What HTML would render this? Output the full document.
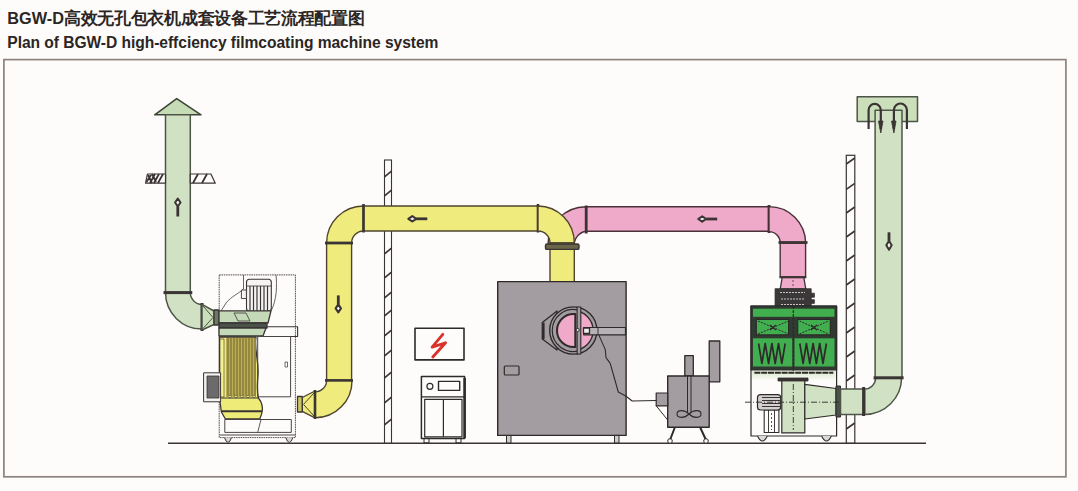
<!DOCTYPE html>
<html><head><meta charset="utf-8">
<style>
html,body{margin:0;padding:0;background:#fdfcfa;width:1078px;height:491px;overflow:hidden;position:relative;font-family:"Liberation Sans",sans-serif;}
.t{position:absolute;left:7.3px;font-weight:bold;color:#2b2624;white-space:nowrap;line-height:20px;}
#t1{top:8px;font-size:16.3px;}
#t1 span{font-size:17px;letter-spacing:-0.3px;}
#t2{top:32.7px;font-size:15.6px;letter-spacing:-0.05px;}
svg{position:absolute;left:0;top:0;filter:blur(0.3px);}
</style></head>
<body>
<div class="t" id="t1">BGW-D<span>高效无孔包衣机成套设备工艺流程配置图</span></div>
<div class="t" id="t2">Plan of BGW-D high-effciency filmcoating machine system</div>
<svg width="1078" height="491" viewBox="0 0 1078 491">
<defs>
<pattern id="hatch" patternUnits="userSpaceOnUse" width="8" height="20" patternTransform="skewY(-35)">
<rect width="8" height="20" fill="#fdfcfa"/><rect y="0" width="8" height="2.2" fill="#3a3434"/>
</pattern>
<linearGradient id="glow" x1="0" y1="0" x2="0" y2="1"><stop offset="0" stop-color="#d8e8cc"/><stop offset="1" stop-color="#fdfcfa"/></linearGradient>
</defs>
<!-- frame -->
<rect x="3.9" y="59.6" width="1062" height="417.2" fill="none" stroke="#8c827e" stroke-width="1.7"/>
<!-- floor -->
<line x1="168" y1="443.2" x2="926" y2="443.2" stroke="#3a3434" stroke-width="1.6"/>

<g stroke="#3a3434" stroke-width="1.3" stroke-linejoin="round">
<!-- ===== LEFT CHIMNEY ===== -->
<polygon points="176.7,98.6 154.7,114.8 201,114.8" fill="#c6dcb6" stroke="#3e4438" stroke-width="1.6"/>
<rect x="165.5" y="114.8" width="24.8" height="178" fill="#d0e2c3" stroke="#4e5548" stroke-width="1.5"/>
<!-- roof bar hatch -->
<polygon points="147.4,174 165.5,174 165.5,183.2 145.6,183.2" fill="#fdfcfa" stroke-width="1.2"/>
<polygon points="190.3,174 210.9,174 215.3,183.2 190.3,183.2" fill="#fdfcfa" stroke-width="1.2"/>
<path d="M146.5,182 L151,175 M150,183 L155,174 M154,183 L159,174 M158,183 L163,174 M148,175 L152,183 M152,174 L156,182 M193,183 L198,174 M202,183 L207,174" stroke-width="1.8" fill="none"/>
<!-- elbow -->
<path d="M165.5,292.6 A36.5,36.5 0 0 0 202,329.1 L202,304.4 A11.8,11.8 0 0 1 190.3,292.6 Z" fill="#d0e2c3" stroke="#4e5548" stroke-width="1.5"/>
<line x1="163.5" y1="292.6" x2="192.3" y2="292.6" stroke-width="3"/>
<line x1="202" y1="303" x2="202" y2="331" stroke-width="3"/>
<polygon points="202,304.4 214,311 214,324.5 202,330" fill="#cadfba" stroke="#4e5548" stroke-width="1.5"/><path d="M203,306 L213,317.5 L203,328.5" fill="none" stroke="#4e5548" stroke-width="1"/>
<rect x="214" y="310" width="5" height="15" fill="#6a7a66"/>
<!-- arrow up -->
<g stroke="#3a3434" fill="#f4f2ee"><path d="M177.8,198.5 L175.10000000000002,202.5 L177.8,206.5 L180.5,202.5 Z" stroke-width="2"/><line x1="177.8" y1="206.5" x2="177.8" y2="216.5" stroke-width="2.8"/></g>

<!-- ===== LEFT DUST COLLECTOR ===== -->
<rect x="219.2" y="274.9" width="76.2" height="162.7" fill="none" stroke="#5a5050" stroke-width="1" stroke-dasharray="1.6,0.7"/>
<polyline points="265,326.7 297.6,326.7 297.6,336.5 262,336.5" fill="none" stroke-width="1.1"/>
<!-- motor cover outline -->
<path d="M243.5,275 L243.5,289 C238,294 232,296 226,303 L221,311 M276,275 C277,285 277,300 271,311" fill="none" stroke="#5a5050" stroke-width="0.9"/>
<!-- motor -->
<rect x="246.5" y="279.3" width="24.8" height="32" rx="3" fill="#f6f4f2" stroke-width="1.1"/>
<line x1="247" y1="286" x2="271" y2="286" stroke-width="0.8"/>
<g stroke-width="1.2">
<line x1="250" y1="286" x2="250" y2="311"/><line x1="253.5" y1="286" x2="253.5" y2="311"/>
<line x1="257" y1="286" x2="257" y2="311"/><line x1="260.5" y1="286" x2="260.5" y2="311"/>
<line x1="264" y1="286" x2="264" y2="311"/><line x1="267.5" y1="286" x2="267.5" y2="311"/>
</g>
<rect x="241.4" y="290" width="5" height="8.5" fill="#f6f4f2" stroke-width="0.9"/>
<!-- fan housing -->
<path d="M219,310.8 L271,310.8 L268,323 L219,323 Z" fill="#c4d9b8"/>
<rect x="219" y="323" width="48" height="5" fill="#4a524a"/>
<path d="M219,328 L266,328 L263,336 L219,336 Z" fill="#c4d9b8"/>
<path d="M234,313 L246,313 L250,321 L238,321 Z" fill="none" stroke-width="0.8"/>
<!-- yellow filter body -->
<path d="M219.5,337 L256,337 C254,350 259,360 258,375 C257,385 257,392 258.4,398 C262,402 263,408 262,412 C261.5,415 260.5,417 259.7,419 L225.4,419 L221.4,412 L219.5,398 Z" fill="#efeb78"/>
<rect x="226" y="338" width="30" height="59" fill="#bcae52" stroke="none"/>
<g stroke="#5a4f2a" stroke-width="0.8"><line x1="228" y1="338" x2="228" y2="396"/><line x1="231" y1="338" x2="231" y2="396"/><line x1="234" y1="338" x2="234" y2="396"/><line x1="237" y1="338" x2="237" y2="396"/><line x1="240" y1="338" x2="240" y2="396"/><line x1="243" y1="338" x2="243" y2="396"/><line x1="246" y1="338" x2="246" y2="396"/><line x1="249" y1="338" x2="249" y2="396"/><line x1="252" y1="338" x2="252" y2="396"/><line x1="255" y1="338" x2="255" y2="396"/></g>
<g fill="#f0ec90" stroke="#5a4f2a" stroke-width="0.6"><circle cx="230" cy="396.5" r="1.3"/><circle cx="236" cy="396.5" r="1.3"/><circle cx="242" cy="396.5" r="1.3"/><circle cx="248" cy="396.5" r="1.3"/><circle cx="254" cy="396.5" r="1.3"/></g>
<rect x="220" y="339" width="4" height="58" fill="#f4f190" stroke-width="0.6"/>
<line x1="221.5" y1="411.2" x2="262" y2="411.2" stroke-width="2"/>
<line x1="220" y1="398" x2="258.4" y2="398" stroke-width="1"/>
<!-- inner door -->
<rect x="257.7" y="336.5" width="32.9" height="60.3" fill="none" stroke="#4a4444" stroke-width="1"/>
<rect x="285" y="362" width="2.5" height="5" fill="none" stroke-width="0.7"/>
<!-- small motor left -->
<rect x="203.6" y="372.8" width="17" height="29" fill="#f4f2f0" stroke-width="1"/>
<rect x="207" y="376" width="12" height="22" fill="#6c6a6a" stroke-width="0.8"/>
<!-- bottom tray -->
<rect x="224.8" y="419.5" width="66.5" height="12.9" fill="none" stroke="#4a4444" stroke-width="1"/>
<path d="M261,419.5 L257.7,432.4" fill="none" stroke-width="0.8"/>
<line x1="219.5" y1="435" x2="295.4" y2="435" stroke="#4a4444" stroke-width="1"/>
<path d="M224.5,437.6 L226,441 Q228,444 230,441 L231.5,437.6 M285.8,437.6 L287.3,441 Q289.3,444 291.3,441 L292.8,437.6" fill="#d8d6d4" stroke-width="1"/>

<!-- ===== YELLOW PIPE ===== -->
<!-- lower elbow -->
<path d="M352,380.4 A37,37 0 0 1 315,417.8 L315,391.9 A11.5,11.5 0 0 0 326.6,380.4 Z" fill="#efeb7c" stroke="#4e4530" stroke-width="1.4"/>
<polygon points="315,391 302.2,397.5 302.2,411.3 315,417.8" fill="#efeb7c" stroke="#4e4530" stroke-width="1.4"/><path d="M314,393 L303.5,404.4 L314,416" fill="none" stroke="#4e4530" stroke-width="1"/>
<rect x="297.5" y="396.5" width="4.7" height="15.5" fill="#ccc660"/>
<line x1="315" y1="390" x2="315" y2="419" stroke-width="2.6"/>
<!-- vertical -->
<rect x="326.6" y="243" width="25" height="137.4" fill="#efeb7c" stroke="#4e4530" stroke-width="1.4"/>
<line x1="325" y1="380.4" x2="353" y2="380.4" stroke-width="2.6"/>
<!-- upper left elbow -->
<path d="M326.6,243 A36.9,37 0 0 1 363.5,206 L363.5,231 A12,12 0 0 0 351.6,243 Z" fill="#efeb7c" stroke="#4e4530" stroke-width="1.4"/>
<line x1="325" y1="243" x2="353" y2="243" stroke-width="2.8"/>
<!-- arrow down in vertical -->
<g stroke="#3a3434" fill="#f4f2ee"><path d="M338.3,312.4 L335.6,308.4 L338.3,304.4 L341.0,308.4 Z" stroke-width="2"/><line x1="338.3" y1="304.4" x2="338.3" y2="295.4" stroke-width="2.8"/></g>
</g>

<!-- ===== MIDDLE POST ===== -->
<rect x="384.5" y="160" width="7" height="283" fill="#fdfcfa" stroke="#3a3434" stroke-width="1.1"/>
<g stroke="#3a3434" stroke-width="1.7"><line x1="384.5" y1="176.8" x2="391.5" y2="171.2"/><line x1="384.5" y1="195.8" x2="391.5" y2="190.2"/><line x1="384.5" y1="253.8" x2="391.5" y2="248.2"/><line x1="384.5" y1="277.8" x2="391.5" y2="272.2"/><line x1="384.5" y1="297.8" x2="391.5" y2="292.2"/><line x1="384.5" y1="315.8" x2="391.5" y2="310.2"/><line x1="384.5" y1="335.8" x2="391.5" y2="330.2"/><line x1="384.5" y1="355.8" x2="391.5" y2="350.2"/><line x1="384.5" y1="377.8" x2="391.5" y2="372.2"/><line x1="384.5" y1="402.8" x2="391.5" y2="397.2"/><line x1="384.5" y1="424.8" x2="391.5" y2="419.2"/></g>

<g stroke="#3a3434" stroke-width="1.3" stroke-linejoin="round">
<!-- horizontal yellow -->
<rect x="363.5" y="206" width="174.5" height="25" fill="#efeb7c" stroke="#4e4530" stroke-width="1.4"/>
<line x1="363.5" y1="204" x2="363.5" y2="232.5" stroke-width="2.6"/>
<line x1="538" y1="204" x2="538" y2="232.5" stroke-width="2.6"/>
<g stroke="#3a3434" fill="#f4f2ee"><path d="M408.3,218.8 L412.3,216.10000000000002 L416.3,218.8 L412.3,221.5 Z" stroke-width="2"/><line x1="416.3" y1="218.8" x2="427.3" y2="218.8" stroke-width="2.8"/></g>

<!-- ===== PINK PIPE ===== -->
<path d="M586.2,206.7 A38,38 0 0 0 548,245 L574.2,245 A14,14 0 0 1 586.2,231.2 Z" fill="#efa9c9" stroke="#4a3038" stroke-width="1.4"/>
<rect x="586.2" y="206.7" width="182.8" height="24.5" fill="#efa9c9" stroke="#4a3038" stroke-width="1.4"/>
<line x1="586.2" y1="205.5" x2="586.2" y2="233.5" stroke-width="2.8"/>
<line x1="769" y1="205" x2="769" y2="233" stroke-width="2.8"/>
<path d="M769,206.6 A36.6,36.6 0 0 1 805.6,243 L780.2,243 A11.2,11.2 0 0 0 769,231.6 Z" fill="#efa9c9" stroke="#4a3038" stroke-width="1.4"/>
<rect x="780.2" y="243" width="25.4" height="34" fill="#efa9c9" stroke="#4a3038" stroke-width="1.4"/>
<line x1="778.5" y1="242.5" x2="807.5" y2="242.5" stroke-width="2.8"/>
<polygon points="782.2,277.3 803.8,277.3 805.8,289 780.2,289" fill="#efa9c9"/><line x1="779.5" y1="277.3" x2="806.3" y2="277.3" stroke-width="2"/>
<line x1="793" y1="280" x2="793" y2="300" stroke-dasharray="2,2" stroke-width="0.8"/>
<g stroke="#3a3434" fill="#f4f2ee"><path d="M698.2,219 L702.2,216.3 L706.2,219 L702.2,221.7 Z" stroke-width="2"/><line x1="706.2" y1="219" x2="717.2" y2="219" stroke-width="2.8"/></g>
<!-- dark box on filter -->
<rect x="775.3" y="289" width="35.7" height="17" fill="#3a3838"/>
<g stroke="#c8c4c4" stroke-width="1" stroke-dasharray="2,1">
<line x1="780" y1="292.5" x2="805" y2="292.5"/><line x1="781" y1="299" x2="805" y2="299"/><line x1="781" y1="304.5" x2="805" y2="304.5"/>
</g>
<rect x="810.7" y="293.2" width="3.7" height="4.1" fill="#3a3838" stroke-width="0.8"/>
<rect x="810.7" y="299.7" width="3.7" height="3.7" fill="#3a3838" stroke-width="0.8"/>

<!-- yellow right elbow (over pink) -->
<path d="M538,206 A36.3,37 0 0 1 574.3,243 L550,243 A12,12 0 0 0 538,231 Z" fill="#efeb7c" stroke="#4e4530" stroke-width="1.4"/>
<rect x="550" y="243" width="24.3" height="39" fill="#efeb7c" stroke="#4e4530" stroke-width="1.4"/>
<rect x="545.5" y="244" width="33.5" height="5.4" rx="1.5" fill="#6a6448" stroke="#3a3430" stroke-width="1.4"/>
</g>

<!-- ===== ELECTRICAL ===== -->
<g stroke="#2e2a2a" fill="none" stroke-linejoin="round">
<rect x="415" y="328.3" width="49" height="31.6" stroke-width="1.6"/>
<path d="M442.8,334.3 L432.1,347.1 L445.6,342.8 L432.8,357" stroke="#d8322a" stroke-width="2.8" stroke-linecap="round"/>
<rect x="421.4" y="376.5" width="43.2" height="61.9" stroke-width="1.5"/>
<line x1="464.6" y1="378" x2="464.6" y2="438" stroke-width="2.6"/>
<line x1="422" y1="396.9" x2="464" y2="396.9" stroke-width="1.2"/>
<circle cx="429.9" cy="386.3" r="3" stroke-width="1.2"/>
<rect x="438.5" y="381.4" width="21.2" height="9" stroke-width="1.4"/>
<rect x="424.7" y="399.3" width="37.3" height="37.5" stroke-width="1.2"/>
<line x1="443.4" y1="399.3" x2="443.4" y2="436.8" stroke-width="1.2"/>
<rect x="424" y="438.4" width="5" height="4.5" stroke-width="1"/>
<rect x="456" y="438.4" width="5" height="4.5" stroke-width="1"/>
</g>

<!-- ===== COATING MACHINE ===== -->
<g stroke="#2e2a2a" stroke-linejoin="round">
<rect x="497.7" y="281.6" width="128.4" height="153.8" fill="#a39da1" stroke-width="1.4"/>
<rect x="506.5" y="435.4" width="4.5" height="7.5" fill="#d0cccc" stroke-width="1"/>
<rect x="614.5" y="435.4" width="4.5" height="7.5" fill="#d0cccc" stroke-width="1"/>
<rect x="504.3" y="366" width="14.7" height="9" rx="1" fill="none" stroke-width="1.2"/>
<!-- door -->
<polygon points="542.3,322.6 557,311 557,350 542.3,339" fill="#a39da1" stroke-width="1.3"/>
<line x1="543.5" y1="322.6" x2="543.5" y2="339" stroke-width="2.2"/>
<circle cx="573.3" cy="330.5" r="23.6" fill="#a39da1" stroke-width="1.4"/>
<circle cx="573.3" cy="330.5" r="19.8" fill="#efa9c9" stroke-width="1.3"/>
<path d="M579,310.3 A21,21 0 1 0 579,350.7 Z" fill="#a39da1" stroke-width="1.2"/>
<path d="M575.3,314.1 A16.5,16.5 0 1 0 575.3,346.9 Z" fill="#efa9c9" stroke-width="2"/>
<rect x="577.1" y="307" width="3.7" height="47" fill="#a39da1" stroke-width="1.1"/>
<circle cx="577.7" cy="330" r="1.6" fill="#e8e4e4" stroke-width="0.9"/>
<rect x="583.7" y="327.5" width="41.8" height="7.3" fill="#b7b2b5" stroke-width="1.2"/>
<rect x="583.5" y="328" width="6" height="5.5" fill="#f0eeee" stroke-width="1.3"/>
<line x1="598" y1="327.5" x2="598" y2="334.8" stroke-width="0.9"/>
<!-- cable -->
<path d="M598.8,334.9 L605.3,349.6 L606,357.7 L610.2,363.4 L618.3,392 L625.7,396 L632.2,401 L656.7,400.5" fill="none" stroke-width="1.1"/>
</g>

<!-- ===== MIXING TANK ===== -->
<g stroke="#2e2a2a" stroke-linejoin="round">
<rect x="709.2" y="341" width="10.6" height="40.8" fill="#a39da1" stroke-width="1.3"/>
<rect x="684.8" y="355.7" width="8.5" height="20.3" fill="#a39da1" stroke-width="1.3"/>
<path d="M675,427 L670,440 M700,427 L706,440" fill="none" stroke-width="2"/>
<circle cx="670" cy="441" r="2.3" fill="#fdfcfa" stroke-width="1"/>
<circle cx="706" cy="441" r="2.3" fill="#fdfcfa" stroke-width="1"/>
<rect x="667.7" y="376" width="41.5" height="51.3" fill="#a39da1" stroke-width="1.4"/>
<rect x="656.2" y="393" width="11.5" height="12.8" fill="#a39da1" stroke-width="1.2"/>
<path d="M656.2,405.8 L667.7,420" fill="none" stroke-width="1"/>
<line x1="687.5" y1="376" x2="687.5" y2="412" stroke-width="1"/>
<line x1="691" y1="376" x2="691" y2="412" stroke-width="1"/>
<path d="M689,414 C684,409 677,410 677,414 C677,418 684,419 689,414 C694,409 701,410 701,414 C701,418 694,419 689,414 Z" fill="none" stroke-width="1.1"/>
</g>

<!-- ===== RIGHT POST ===== -->
<rect x="846.3" y="155.3" width="8.5" height="287.7" fill="#fdfcfa" stroke="#3a3434" stroke-width="1.2"/>
<g stroke="#3a3434" stroke-width="1.6"><line x1="846.3" y1="164.0" x2="854.8" y2="158.0"/><line x1="846.3" y1="189.3" x2="854.8" y2="183.3"/><line x1="846.3" y1="213.0" x2="854.8" y2="207.0"/><line x1="846.3" y1="237.0" x2="854.8" y2="231.0"/><line x1="846.3" y1="261.0" x2="854.8" y2="255.0"/><line x1="846.3" y1="285.0" x2="854.8" y2="279.0"/><line x1="846.3" y1="309.0" x2="854.8" y2="303.0"/><line x1="846.3" y1="333.0" x2="854.8" y2="327.0"/><line x1="846.3" y1="357.0" x2="854.8" y2="351.0"/><line x1="846.3" y1="381.0" x2="854.8" y2="375.0"/><line x1="846.3" y1="405.0" x2="854.8" y2="399.0"/><line x1="846.3" y1="429.0" x2="854.8" y2="423.0"/></g>

<!-- ===== RIGHT FILTER UNIT ===== -->
<g stroke="#2e2a2a" stroke-linejoin="round">
<rect x="751" y="306" width="85.6" height="130" fill="#fdfcfa" stroke-width="1.2"/>
<rect x="751" y="306" width="85.6" height="64" fill="#2f3a30" stroke-width="1.2"/>
<rect x="752" y="371" width="83.6" height="10" fill="url(#glow)" stroke="none"/>
<line x1="754.4" y1="372.7" x2="833.3" y2="372.7" stroke-width="2" stroke-dasharray="6,0.8"/>
<rect x="753" y="308.7" width="81.5" height="8.1" fill="#41ae50" stroke="none"/>
<rect x="756.3" y="319.4" width="32.3" height="15.5" fill="#41ae50" stroke-width="1.2"/>
<rect x="797.7" y="319.4" width="32.6" height="15.5" fill="#41ae50" stroke-width="1.2"/>
<path d="M758,321 L788.5,334 M758,334 L788.5,321 M799.5,321 L828.5,334 M799.5,334 L828.5,321" stroke-width="1" stroke-dasharray="2,1.2"/><path d="M770,325 L776,330 M776,325 L770,330 M811,325 L817,330 M817,325 L811,330" stroke-width="1.3"/>
<rect x="753" y="338.3" width="39.3" height="28.2" fill="#41ae50" stroke="none"/>
<rect x="794.5" y="338.3" width="40" height="28.2" fill="#41ae50" stroke="none"/>
<polyline points="758.6,343.5 761.9,363.5 765.2,343.5 768.6,363.5 771.9,343.5 775.2,363.5 778.5,343.5 781.8,363.5 785.2,343.5" fill="none" stroke-width="1.7" stroke-linejoin="round"/>
<polyline points="799.8,343.5 803.1,363.5 806.4,343.5 809.8,363.5 813.1,343.5 816.4,363.5 819.7,343.5 823.0,363.5 826.4,343.5" fill="none" stroke-width="1.7" stroke-linejoin="round"/>
<line x1="793.3" y1="306" x2="793.3" y2="371" stroke-width="1.2" stroke-dasharray="3,1"/>
<!-- feet -->
<path d="M757.5,436 Q762.4,446 767.3,436 M821.6,436 Q826.5,446 831.4,436" fill="#dcd8d8" stroke-width="1.1"/>
<!-- motor -->
<rect x="764.2" y="410" width="14.7" height="22.5" fill="#fdfcfa" stroke-width="1.1"/>
<line x1="768.5" y1="410" x2="768.5" y2="432" stroke-width="0.9"/><line x1="774.5" y1="410" x2="774.5" y2="432" stroke-width="0.9"/>
<line x1="771.5" y1="413" x2="771.5" y2="430" stroke-width="0.8" stroke-dasharray="2,2"/>
<rect x="757.5" y="394.6" width="23.2" height="15.4" rx="3" fill="#d4d0d0" stroke-width="1.2"/>
<g stroke="#3a3434" stroke-width="1"><line x1="762" y1="397.5" x2="780" y2="397.5"/><line x1="762" y1="400.5" x2="780" y2="400.5"/><line x1="762" y1="403.5" x2="780" y2="403.5"/><line x1="762" y1="406.5" x2="780" y2="406.5"/></g>
<!-- fan housing -->
<rect x="781.8" y="379.3" width="23" height="53.6" fill="#d0e2c3" stroke-width="1.2"/>
<rect x="778" y="378" width="30" height="3" fill="#3a3434" stroke-width="0.8"/>
<polygon points="804.8,384.4 836,388.5 836,415 804.8,419" fill="#d0e2c3" stroke-width="1.2"/>
<rect x="836" y="386" width="4.5" height="31" fill="#4a524a" stroke-width="1"/>
<line x1="745" y1="402.2" x2="850" y2="402.2" stroke-width="0.9" stroke-dasharray="6,2,1,2"/>
<line x1="793.3" y1="384" x2="793.3" y2="430" stroke-width="0.9" stroke-dasharray="6,2,1,2"/>
</g>

<!-- ===== RIGHT GREEN PIPE ===== -->
<g stroke="#3a3434" stroke-width="1.3" stroke-linejoin="round">
<rect x="857.2" y="96.7" width="60.3" height="24.9" fill="#cadfba" stroke="#4e5548" stroke-width="1.5"/>
<rect x="875.1" y="110.2" width="26.9" height="267.6" fill="#d0e2c3" stroke="#4e5548" stroke-width="1.5"/>
<path d="M901.6,377.8 A37,37 0 0 1 864.6,414.5 L864.6,389 A11,11 0 0 0 875.6,377.8 Z" fill="#d0e2c3" stroke="#4e5548" stroke-width="1.5"/>
<rect x="840.5" y="389" width="24" height="25.5" fill="#d0e2c3" stroke="#4e5548" stroke-width="1.5"/>
<line x1="873.6" y1="377.8" x2="903.6" y2="377.8" stroke-width="3"/>
<line x1="863.6" y1="387" x2="863.6" y2="416" stroke-width="3"/>
<path d="M868.6,129 L868.6,110 A6.1,6.1 0 0 1 880.8,110 L880.8,129" fill="none" stroke-width="2.2"/>
<path d="M893.9,129 L893.9,110 A6.5,6.5 0 0 1 906.9,110 L906.9,129" fill="none" stroke-width="2.2"/>
<path d="M878.5,121 L880.8,133 L883,121 Z" fill="#3a3434" stroke-width="0.8"/>
<path d="M891.5,121 L893.9,133 L896,121 Z" fill="#3a3434" stroke-width="0.8"/>
<g stroke="#3a3434" fill="#f4f2ee"><path d="M889,249.8 L886.3,245.3 L889,240.8 L891.7,245.3 Z" stroke-width="2"/><line x1="889" y1="240.8" x2="889" y2="232.3" stroke-width="2.8"/></g>
</g>
</svg>
</body></html>
